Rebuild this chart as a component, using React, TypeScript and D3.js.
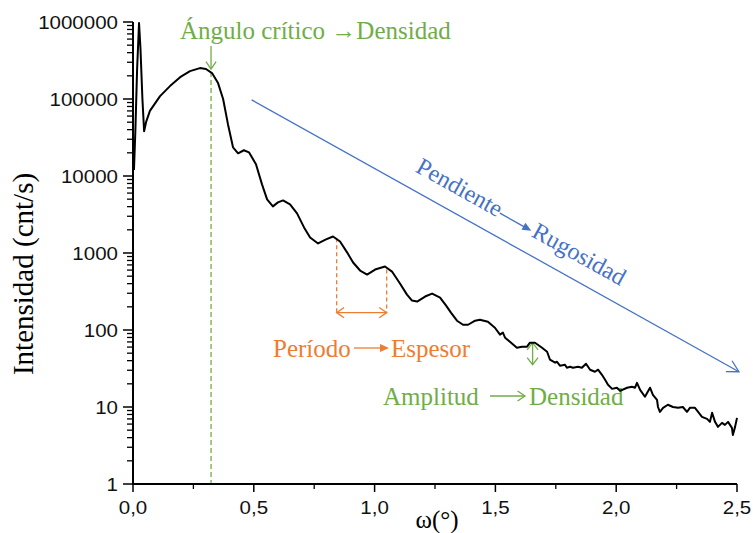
import React from "react";
import * as d3 from "d3";

// Reflectivity scan: incidence angle ω (degrees) vs. detected intensity (counts/s)
const omega = [
  0.004, 0.010, 0.017, 0.025, 0.031, 0.039, 0.046, 0.054, 0.070, 0.112,
  0.153, 0.195, 0.236, 0.277, 0.302, 0.327, 0.352, 0.373, 0.393, 0.414,
  0.435, 0.459, 0.480, 0.509, 0.534, 0.555, 0.579, 0.600, 0.621, 0.650,
  0.679, 0.708, 0.733, 0.766, 0.799, 0.828, 0.857, 0.886, 0.911, 0.940,
  0.969, 1.002, 1.043, 1.072, 1.105, 1.134, 1.155, 1.176, 1.209, 1.238,
  1.271, 1.296, 1.316, 1.341, 1.366, 1.387, 1.416, 1.436, 1.469, 1.498,
  1.519, 1.531, 1.540, 1.560, 1.589, 1.610, 1.631, 1.643, 1.664, 1.693,
  1.714, 1.726, 1.747, 1.755, 1.767, 1.788, 1.796, 1.809, 1.821, 1.842,
  1.858, 1.875, 1.892, 1.912, 1.925, 1.941, 1.954, 1.966, 1.983, 2.003,
  2.016, 2.045, 2.065, 2.078, 2.086, 2.099, 2.119, 2.140, 2.152, 2.169,
  2.173, 2.181, 2.194, 2.214, 2.235, 2.256, 2.276, 2.293, 2.305, 2.326,
  2.339, 2.355, 2.376, 2.388, 2.397, 2.409, 2.421, 2.438, 2.450, 2.463,
  2.479, 2.483, 2.492, 2.500,
];

const intensity = [
  12000, 40500, 245000, 971000, 446000, 100000, 38200, 50000, 70000, 109000,
  147000, 192000, 230000, 252000, 245000, 217000, 161000, 100000, 47100, 23600,
  19700, 21600, 20300, 14200, 7790, 4970, 4030, 4540, 4820, 4280,
  3270, 2150, 1590, 1330, 1500, 1640, 1410, 1020, 752, 592,
  525, 610, 667, 574, 401, 288, 241, 234, 272, 297,
  264, 207, 168, 132, 117, 117, 132, 136, 128, 107,
  87.0, 92.3, 79.5, 70.5, 58.9, 60.7, 60.7, 68.4, 68.4, 58.9,
  52.2, 41.1, 37.6, 38.7, 34.4, 35.4, 32.4, 33.3, 32.4, 33.3,
  32.4, 36.5, 30.5, 28.7, 30.5, 26.2, 22.6, 19.4, 17.2, 17.8,
  16.2, 17.8, 18.3, 17.8, 20.6, 16.7, 13.6, 17.8, 14.4, 12.4,
  10.0, 8.65, 9.75, 10.7, 10.0, 9.75, 10.0, 8.65, 9.75, 9.75,
  8.65, 7.45, 7.02, 6.41, 8.40, 6.41, 5.52, 6.22, 5.86, 6.41,
  5.36, 4.34, 5.52, 7.23,
];

const yTicks = [1, 10, 100, 1000, 10000, 100000, 1000000];
const yTickLabels = ["1", "10", "100", "1000", "10000", "100000", "1000000"];
const xTicks = [0, 0.5, 1.0, 1.5, 2.0, 2.5];
const xTickLabels = ["0,0", "0,5", "1,0", "1,5", "2,0", "2,5"];
const xMinorTicks = [0.25, 0.75, 1.25, 1.75, 2.25];

// Annotation anchors (data coordinates)
const criticalAngle = 0.323;
const criticalArrow = [488000, 245000];
const criticalGuideTop = 224000;
const periodPeaks = [0.843, 1.05];
const periodPeakLevels = [1560, 610];
const periodArrowLevel = 168;
const amplitudeOmega = 1.654;
const amplitudeRange = [68.4, 35.4];
const slopeStart = [0.491, 97500];
const slopeEnd = [2.508, 28.7];

const GREEN = "#70AD47";
const ORANGE = "#ED7D31";
const BLUE = "#4472C4";
const SERIF = "Liberation Serif, Times New Roman, DejaVu Serif, serif";
const SANS = "Liberation Sans, Arial, sans-serif";

const x = d3.scaleLinear().domain([0, 2.5]).range([133, 737]);
const y = d3.scaleLog().domain([1, 1e6]).range([484, 22]);

// Open chevron arrowhead: tip at (tx,ty), pointing along angle (radians)
function chevron(tx: number, ty: number, ang: number, len = 9, half = 0.6) {
  const a1 = ang + Math.PI - half;
  const a2 = ang + Math.PI + half;
  return `M${tx + len * Math.cos(a1)},${ty + len * Math.sin(a1)}L${tx},${ty}L${tx + len * Math.cos(a2)},${ty + len * Math.sin(a2)}`;
}

// Filled triangular arrowhead
function triangle(tx: number, ty: number, ang: number, len = 9, w = 4) {
  const bx = tx - len * Math.cos(ang);
  const by = ty - len * Math.sin(ang);
  const nx = -Math.sin(ang) * w;
  const ny = Math.cos(ang) * w;
  return `M${tx},${ty}L${bx + nx},${by + ny}L${bx - nx},${by - ny}Z`;
}

function STxt(props: {
  x: number; y: number; sx?: number; size: number; family: string; fill: string;
  anchor?: string; children: React.ReactNode;
}) {
  const { x: px, y: py, sx = 1, size, family, fill, anchor = "start", children } = props;
  return (
    <text
      transform={`translate(${px},${py}) scale(${sx},1)`}
      style={{ fontFamily: family, fontSize: size }}
      fill={fill}
      textAnchor={anchor}
    >
      {children}
    </text>
  );
}

export default function App() {
  const linePath = d3
    .line<number>()
    .x((_, i) => x(omega[i]))
    .y((d) => y(d))(intensity) as string;

  const yMinor: number[] = [];
  for (let dec = 0; dec < 6; dec++) {
    for (let k = 2; k <= 9; k++) yMinor.push(k * Math.pow(10, dec));
  }

  const x0 = x.range()[0];
  const x1 = x.range()[1];
  const yb = y.range()[0];
  const yt = y.range()[1];

  // Slope annotation geometry
  const s0 = [x(slopeStart[0]), y(slopeStart[1])];
  const s1 = [x(slopeEnd[0]), y(slopeEnd[1])];
  const sAng = Math.atan2(s1[1] - s0[1], s1[0] - s0[0]);
  const sLen = Math.hypot(s1[0] - s0[0], s1[1] - s0[1]);
  const sDeg = (sAng * 180) / Math.PI;

  const ca = x(criticalAngle);
  const pA = x(periodPeaks[0]);
  const pB = x(periodPeaks[1]);
  const pY = y(periodArrowLevel);
  const am = x(amplitudeOmega);

  return (
    <svg
      width={753}
      height={533}
      style={{ position: "absolute", left: 0, top: 0, background: "#fff" }}
    >
      {/* critical-angle guide */}
      <line
        x1={ca} x2={ca} y1={y(criticalGuideTop)} y2={yb}
        stroke={GREEN} strokeWidth={1.3} strokeDasharray="5,3"
      />
      <line x1={ca} x2={ca} y1={y(criticalArrow[0])} y2={y(criticalArrow[1])} stroke={GREEN} strokeWidth={1.3} />
      <path d={chevron(ca, y(criticalArrow[1]), Math.PI / 2, 9, 0.6)} stroke={GREEN} strokeWidth={1.3} fill="none" />
      <STxt x={180} y={39} size={25} family={SERIF} fill={GREEN}>
        Ángulo crítico →Densidad
      </STxt>

      {/* period markers */}
      {periodPeaks.map((p, i) => (
        <line
          key={i}
          x1={x(p)} x2={x(p)} y1={y(periodPeakLevels[i])} y2={pY}
          stroke={ORANGE} strokeWidth={1.3} strokeDasharray="4,3"
        />
      ))}
      <line x1={pA} x2={pB} y1={pY} y2={pY} stroke={ORANGE} strokeWidth={1.3} />
      <path d={chevron(pA, pY, Math.PI, 9, 0.6)} stroke={ORANGE} strokeWidth={1.3} fill="none" />
      <path d={chevron(pB, pY, 0, 9, 0.6)} stroke={ORANGE} strokeWidth={1.3} fill="none" />
      <STxt x={273} y={357} size={25} family={SERIF} fill={ORANGE}>Período</STxt>
      <line x1={354} x2={382} y1={348} y2={348} stroke={ORANGE} strokeWidth={1.3} />
      <path d={triangle(389, 348, 0, 9, 4)} fill={ORANGE} />
      <STxt x={391} y={357} size={25} family={SERIF} fill={ORANGE}>Espesor</STxt>

      {/* amplitude marker */}
      <line x1={am} x2={am} y1={y(amplitudeRange[0])} y2={y(amplitudeRange[1])} stroke={GREEN} strokeWidth={1.3} />
      <path d={chevron(am, y(amplitudeRange[0]), -Math.PI / 2, 9, 0.65)} stroke={GREEN} strokeWidth={1.3} fill="none" />
      <path d={chevron(am, y(amplitudeRange[1]), Math.PI / 2, 9, 0.65)} stroke={GREEN} strokeWidth={1.3} fill="none" />
      <STxt x={383} y={405} size={25} family={SERIF} fill={GREEN}>Amplitud</STxt>
      <line x1={490} x2={525} y1={396} y2={396} stroke={GREEN} strokeWidth={1.3} />
      <path d={chevron(525, 396, 0, 9, 0.6)} stroke={GREEN} strokeWidth={1.3} fill="none" />
      <STxt x={529} y={405} size={25} family={SERIF} fill={GREEN}>Densidad</STxt>

      {/* slope annotation */}
      <g transform={`translate(${s0[0]},${s0[1]}) rotate(${sDeg})`}>
        <line x1={0} x2={sLen} y1={0} y2={0} stroke={BLUE} strokeWidth={1.3} />
        <path d={chevron(sLen, 0, 0, 13, 0.5)} stroke={BLUE} strokeWidth={1.3} fill="none" />
        <text x={177} y={-17} style={{ fontFamily: SERIF, fontSize: 24 }} fill={BLUE}>Pendiente</text>
        <line x1={272} x2={300} y1={-22} y2={-22} stroke={BLUE} strokeWidth={1.3} />
        <path d={triangle(308, -22, 0, 9, 4)} fill={BLUE} />
        <text x={310} y={-17} style={{ fontFamily: SERIF, fontSize: 24 }} fill={BLUE}>Rugosidad</text>
      </g>

      {/* data curve */}
      <path d={linePath} fill="none" stroke="#000" strokeWidth={2} strokeLinejoin="round" />

      {/* y axis */}
      {yMinor.map((v) => (
        <line key={`ym${v}`} x1={x0 - 6} x2={x0} y1={y(v)} y2={y(v)} stroke="#000" strokeWidth={1.3} />
      ))}
      {yTicks.map((v, i) => (
        <g key={`yt${v}`}>
          <line x1={x0 - 10} x2={x0} y1={y(v)} y2={y(v)} stroke="#000" strokeWidth={1.5} />
          <STxt x={118} y={y(v) + 7} sx={1.08} size={19} family={SANS} fill="#111" anchor="end">
            {yTickLabels[i]}
          </STxt>
        </g>
      ))}
      <line x1={x0} x2={x0} y1={yt} y2={yb + 1} stroke="#000" strokeWidth={2} />

      {/* x axis */}
      {xMinorTicks.map((v) => (
        <line key={`xm${v}`} x1={x(v)} x2={x(v)} y1={yb} y2={yb + 5} stroke="#000" strokeWidth={1.3} />
      ))}
      {xTicks.map((v, i) => (
        <g key={`xt${v}`}>
          <line x1={x(v)} x2={x(v)} y1={yb} y2={yb + 8} stroke="#000" strokeWidth={1.5} />
          <STxt x={x(v)} y={514} sx={1.08} size={19} family={SANS} fill="#111" anchor="middle">
            {xTickLabels[i]}
          </STxt>
        </g>
      ))}
      <line x1={x0 - 1} x2={x1} y1={yb} y2={yb} stroke="#000" strokeWidth={2} />

      {/* axis titles */}
      <STxt x={437} y={528} size={25} family={SERIF} fill="#000" anchor="middle">ω(°)</STxt>
      <text
        transform={`translate(33,274) rotate(-90)`}
        style={{ fontFamily: SERIF, fontSize: 29 }}
        fill="#000"
        textAnchor="middle"
      >
        Intensidad (cnt/s)
      </text>
    </svg>
  );
}
